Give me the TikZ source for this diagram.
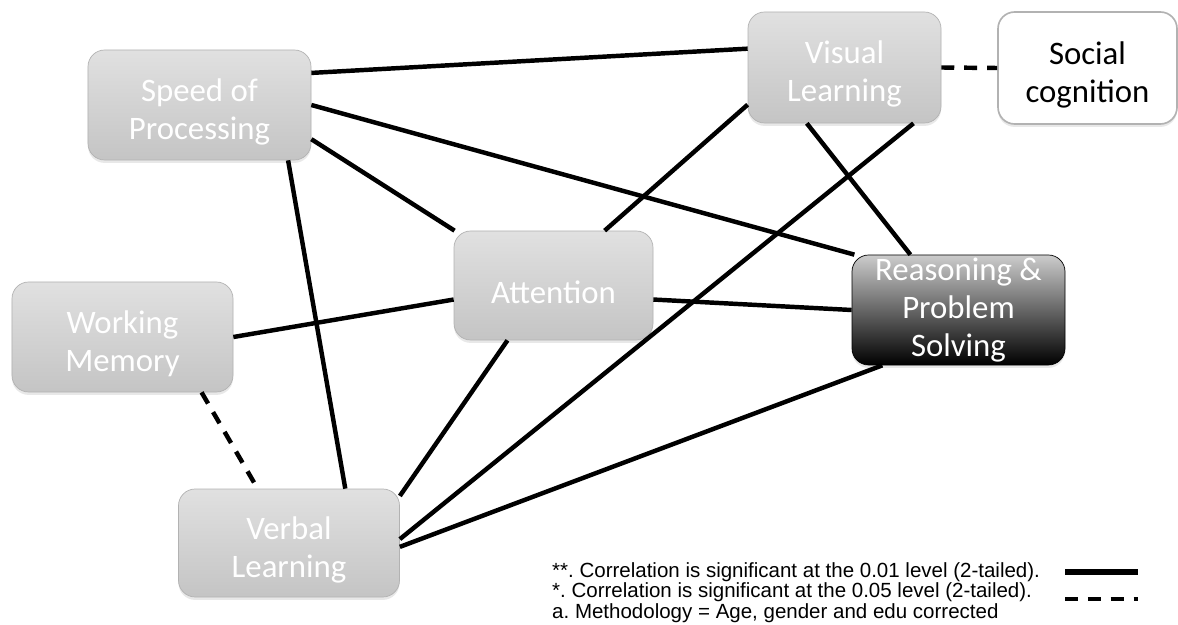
\documentclass[tikz,border=0pt]{standalone}
\usepackage{fontspec}
\setmainfont{Carlito}
\newfontfamily\legendfont{Liberation Sans}
\usetikzlibrary{shadows}
\frenchspacing
\newcommand{\lift}{\rule{0pt}{31pt}}

\tikzset{
  factor/.style={rectangle, rounded corners=0.5cm, draw=gray!60, line width=0.6pt,
    top color=gray!24, bottom color=gray!46, text=white, align=center, inner sep=0pt,
    minimum height=3.3cm, font=\fontsize{28}{32.4}\selectfont,
    drop shadow={opacity=0.18, shadow xshift=0pt, shadow yshift=-2.5pt}},
  target/.style={factor, top color=gray!40, bottom color=black, draw=black},
  plain/.style={factor, top color=white, bottom color=white, draw=gray!60, line width=1.4pt, text=black},
  sig/.style={line width=3.8pt},
  weak/.style={line width=3.8pt, dash pattern=on 11pt off 8.5pt},
  legend/.style={anchor=base west, inner sep=0pt, font=\legendfont\fontsize{17.5}{21}\selectfont}
}

\begin{document}
\begin{tikzpicture}[x=0.03cm, y=-0.03cm]
            \useasboundingbox (0,0) rectangle (1178,625);
            \node[factor, minimum width=6.69cm] (speed) at (199.5,105) {\lift Speed of\\Processing};
            \node[factor, minimum width=5.79cm, minimum height=3.33cm] (visual) at (844.5,67.5) {\lift Visual\\Learning};
            \node[plain, minimum width=5.37cm, minimum height=3.36cm] (social) at (1087.5,68) {\lift Social\\cognition};
            \node[factor, minimum width=5.97cm, minimum height=3.27cm] (attn) at (553.5,285.5) {\lift Attention};
            \node[target, minimum width=6.39cm] (reason) at (958.5,310) {Reasoning \&\\Problem\\Solving};
            \node[factor, minimum width=6.63cm] (wm) at (122.5,337) {\lift Working\\Memory};
            \node[factor, minimum width=6.63cm, minimum height=3.24cm] (verbal) at (289,543) {\lift Verbal\\Learning};

            \draw[sig] (speed.16.5) -- (visual.169.7);
            \draw[sig] (speed.east) -- (reason.152.7);
            \draw[sig] (speed.-17.4) -- (attn.151);
            \draw[sig] (speed.-32.2) -- (verbal.44);
            \draw[weak] (visual.east) -- (social.west);
            \draw[sig] (visual.-159) -- (attn.47);
            \draw[sig] (visual.-124) -- (reason.131.4);
            \draw[sig] (visual.-39.8) -- (verbal.2.6);
            \draw[sig] (attn.-172.3) -- (wm.east);
            \draw[sig] (attn.-8.3) -- (reason.west);
            \draw[sig] (attn.-130.5) -- (verbal.23.4);
            \draw[weak] (wm.-35.4) -- (verbal.120.6);
            \draw[sig] (reason.-144.3) -- (verbal.-2.6);

            \node[legend] (lsig) at (552,577) {**. Correlation is significant at the 0.01 level (2-tailed).};
            \node[legend] (lweak) at (552,597.5) {*. Correlation is significant at the 0.05 level (2-tailed).};
            \node[legend] (lmeth) at (552,618) {a. Methodology = Age, gender and edu corrected};
            \coordinate (sigA) at (1065,572);
            \coordinate (sigB) at (1138,572);
            \coordinate (weakA) at (1065,599);
            \coordinate (weakB) at (1138,599);
            \draw[sig, line width=4.5pt] (sigA) -- (sigB);
            \draw[weak, line width=3.6pt] (weakA) -- (weakB);
\end{tikzpicture}
\end{document}
